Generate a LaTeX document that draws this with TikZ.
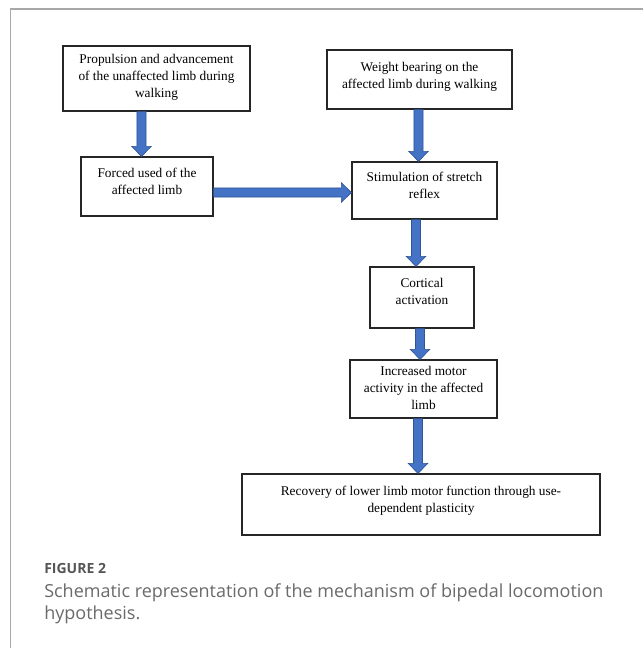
\documentclass[tikz,border=0pt]{standalone}
\usepackage{fontspec}
\setmainfont{Liberation Serif}
\newfontfamily\capfont{Open Sans}
\usetikzlibrary{calc}
\definecolor{arrowfill}{HTML}{4472C4}
\definecolor{arrowedge}{HTML}{2F5597}
\definecolor{framegray}{HTML}{A8A8A8}
\definecolor{capgray}{HTML}{6A6A6A}
\definecolor{figgray}{HTML}{555555}
\newcommand\boxtext[2]{\raisebox{#1}[\height][\depth]{\begin{tabular}{@{}c@{}}#2\end{tabular}}}
\newcommand\blk[2]{%
  \path coordinate (hb) at ($(#2)!7.5pt!(#1)$);
  \filldraw[blkarrow] ($(#1)!3.4pt!-90:(#2)$) -- ($(hb)!3.4pt!90:(#1)$) -- ($(hb)!7.3pt!90:(#1)$) -- (#2) -- ($(hb)!7.3pt!-90:(#1)$) -- ($(hb)!3.4pt!-90:(#1)$) -- ($(#1)!3.4pt!90:(#2)$) -- cycle;}
\tikzset{
  flowbox/.style={draw=black!85, line width=0.9pt, rectangle, inner sep=0pt, align=center,
    font=\fontsize{10}{12.7}\selectfont},
  blkarrow/.style={fill=arrowfill, draw=arrowedge, line width=0.5pt, line join=miter},
}
\begin{document}
\begin{tikzpicture}[x=0.75pt,y=-0.75pt]
\useasboundingbox (0,0) rectangle (643,648);
\fill[white] (0,0) rectangle (643,648);
% frame
\draw[framegray, line width=1.3pt] (643,9) -- (10.5,9) -- (10.5,648);
% boxes
\node[flowbox, minimum width=140.25pt, minimum height=48.75pt] (b1) at (156.5,78.5)
  {\boxtext{1.2pt}{Propulsion and advancement\\of the unaffected limb during\\walking}};
\node[flowbox, minimum width=138.75pt, minimum height=44.25pt] (b2) at (419.5,79.5)
  {\boxtext{2.2pt}{Weight bearing on the\\affected limb during walking}};
\node[flowbox, minimum width=99pt, minimum height=44.25pt] (b3) at (147,186.5)
  {\boxtext{3pt}{Forced used of the\\affected limb}};
\node[flowbox, minimum width=108.75pt, minimum height=42.75pt] (b4) at (424.5,190.5)
  {\boxtext{3pt}{Stimulation of stretch\\reflex}};
\node[flowbox, minimum width=78pt, minimum height=45.75pt] (b5) at (422,297.5)
  {\boxtext{3.7pt}{Cortical\\activation}};
\node[flowbox, minimum width=110.25pt, minimum height=43.5pt] (b6) at (423.5,389)
  {\boxtext{0pt}{Increased motor\\activity in the affected\\limb}};
\node[flowbox, minimum width=268.5pt, minimum height=45.75pt] (b7) at (421,504.5)
  {\boxtext{3pt}{Recovery of lower limb motor function through use-\\dependent plasticity}};
% arrow axes
\coordinate (xa1) at (141.5,0);
\coordinate (xa2) at (418.5,0);
\coordinate (ya3) at (0,192.5);
\coordinate (xa4) at (416,0);
\coordinate (xa5) at (420,0);
\coordinate (xa6) at (418,0);
% arrows
\blk{xa1 |- b1.south}{xa1 |- b3.north}
\blk{xa2 |- b2.south}{xa2 |- b4.north}
\blk{b3.east |- ya3}{b4.west |- ya3}
\blk{xa4 |- b4.south}{xa4 |- b5.north}
\blk{xa5 |- b5.south}{xa5 |- b6.north}
\blk{xa6 |- b6.south}{xa6 |- b7.north}
% caption
\node[anchor=base west, inner sep=0pt, text=figgray, font=\capfont\bfseries\fontsize{10.5}{12}\selectfont] (fig) at (44,573) {FIGURE 2};
\node[anchor=base west, inner sep=0pt, text=capgray, align=left, font=\capfont\fontsize{13.5}{16.5}\selectfont] (cap) at (44,619)
  {Schematic representation of the mechanism of bipedal locomotion\\hypothesis.};
\end{tikzpicture}
\end{document}
